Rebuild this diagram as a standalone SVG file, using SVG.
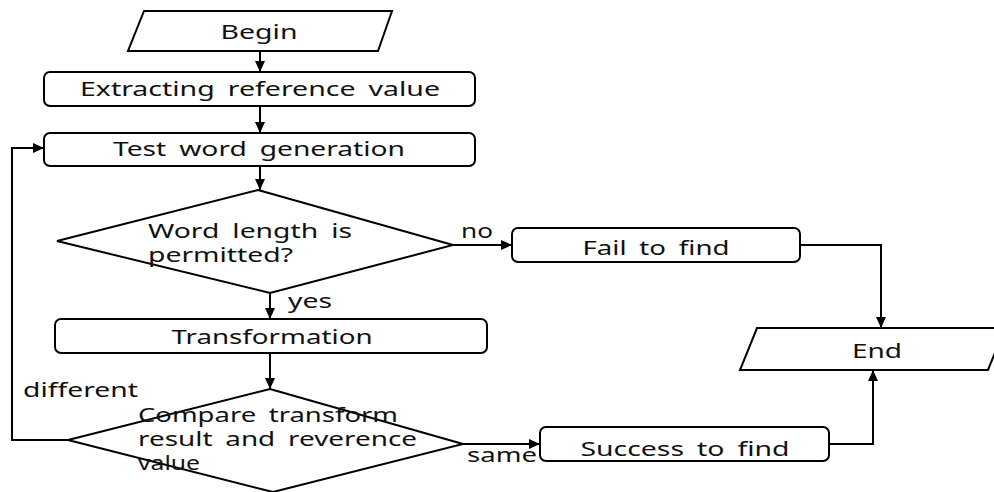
<svg xmlns="http://www.w3.org/2000/svg" width="994" height="492" viewBox="0 0 994 492">
<defs>
<marker id="arr" markerUnits="userSpaceOnUse" markerWidth="11" markerHeight="11" refX="11" refY="5.5" orient="auto">
<path d="M0,0.5 L11,5.5 L0,10.5 z" fill="#000"/>
</marker>
<style>
.s{fill:#fff;stroke:#000;stroke-width:2}
.c{fill:none;stroke:#000;stroke-width:2}
.t{font-family:"Noto Sans","Open Sans","DejaVu Sans",sans-serif;font-size:20px;fill:#111;word-spacing:4px}
.m{text-anchor:middle}
</style>
</defs>
<rect width="994" height="492" fill="#fff"/>
<g id="connectors">
<path class="c" d="M260,51 V72" marker-end="url(#arr)"/>
<path class="c" d="M260,106 V133" marker-end="url(#arr)"/>
<path class="c" d="M260,166 V190" marker-end="url(#arr)"/>
<path class="c" d="M453,245 H512" marker-end="url(#arr)"/>
<path class="c" d="M270,293 V319" marker-end="url(#arr)"/>
<path class="c" d="M270,353 V389" marker-end="url(#arr)"/>
<path class="c" d="M800,245 H881 V328" marker-end="url(#arr)"/>
<path class="c" d="M463,444 H540" marker-end="url(#arr)"/>
<path class="c" d="M829,444 H873 V370" marker-end="url(#arr)"/>
<path class="c" d="M68,440 H12 V148 H44" marker-end="url(#arr)"/>
<text class="t" x="461" y="238" textLength="32" lengthAdjust="spacingAndGlyphs">no</text>
<text class="t" x="288" y="308" textLength="44" lengthAdjust="spacingAndGlyphs">yes</text>
<text class="t" x="23" y="397" textLength="115" lengthAdjust="spacingAndGlyphs">different</text>
<text class="t" x="467" y="462" textLength="70" lengthAdjust="spacingAndGlyphs">same</text>
</g>
<g id="begin">
<polygon class="s" points="144,11 392,11 378,51 128,51"/>
<text class="t m" x="259" y="39" textLength="77" lengthAdjust="spacingAndGlyphs">Begin</text>
</g>
<g id="extract">
<rect class="s" x="44" y="72" width="431" height="34" rx="6"/>
<text class="t m" x="260" y="96" textLength="360" lengthAdjust="spacingAndGlyphs">Extracting reference value</text>
</g>
<g id="testword">
<rect class="s" x="44" y="133" width="431" height="33" rx="6"/>
<text class="t m" x="259" y="156" textLength="292" lengthAdjust="spacingAndGlyphs">Test word generation</text>
</g>
<g id="lengthcheck">
<polygon class="s" points="258,190 453,245 270,293 57,241"/>
<text class="t" x="148" y="238" textLength="204" lengthAdjust="spacingAndGlyphs">Word length is</text>
<text class="t" x="148" y="262" textLength="145" lengthAdjust="spacingAndGlyphs">permitted?</text>
</g>
<g id="fail">
<rect class="s" x="512" y="228" width="288" height="34" rx="6"/>
<text class="t m" x="656" y="255" textLength="147" lengthAdjust="spacingAndGlyphs">Fail to find</text>
</g>
<g id="transform">
<rect class="s" x="55" y="319" width="432" height="34" rx="6"/>
<text class="t m" x="272" y="344" textLength="201" lengthAdjust="spacingAndGlyphs">Transformation</text>
</g>
<g id="compare">
<polygon class="s" points="270,389 463,444 273,492 68,440"/>
<text class="t" x="138" y="422" textLength="260" lengthAdjust="spacingAndGlyphs">Compare transform</text>
<text class="t" x="138" y="446" textLength="279" lengthAdjust="spacingAndGlyphs">result and reverence</text>
<text class="t" x="138" y="470" textLength="62" lengthAdjust="spacingAndGlyphs">value</text>
</g>
<g id="success">
<rect class="s" x="540" y="427" width="289" height="34" rx="6"/>
<text class="t m" x="685" y="456" textLength="209" lengthAdjust="spacingAndGlyphs">Success to find</text>
</g>
<g id="end">
<polygon class="s" points="757,328 1005,328 988,370 740,370"/>
<text class="t m" x="877" y="358" textLength="50" lengthAdjust="spacingAndGlyphs">End</text>
</g>
</svg>
